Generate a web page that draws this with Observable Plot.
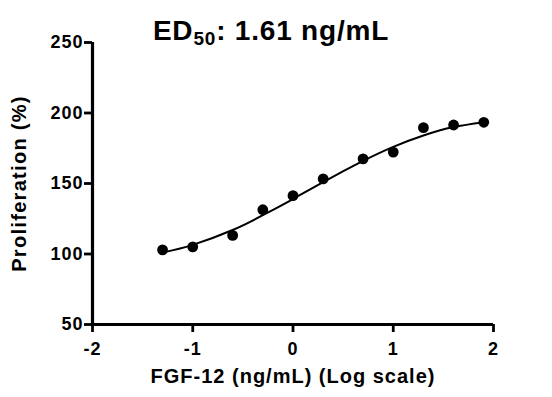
<!DOCTYPE html>
<html>
<head>
<meta charset="utf-8">
<script src="https://cdn.jsdelivr.net/npm/d3@7"></script>
<script src="https://cdn.jsdelivr.net/npm/@observablehq/plot@0.6"></script>
<style>
  html, body { margin: 0; padding: 0; background: #fff; }
  #chart { width: 552px; height: 397px; }
  #chart svg text { letter-spacing: 1px; font-weight: bold; }
</style>
</head>
<body>
<div id="chart"></div>
<script>
// Data: log10 concentration (ng/mL) and proliferation (%)
const logConc = [-1.301, -1.0, -0.602, -0.301, 0.0, 0.301, 0.699, 1.0, 1.301, 1.602, 1.903];
const proliferation = [102.9, 105.1, 113.2, 131.4, 141.4, 153.3, 167.5, 172.3, 189.6, 191.5, 193.4];

// Fitted curve
const curveX = [-1.301, -1.0, -0.602, -0.301, 0.0, 0.301, 0.699, 1.0, 1.301, 1.602, 1.903];
const curveY = [101.0, 106.5, 117.0, 127.5, 139.0, 151.0, 166.0, 176.0, 184.0, 190.0, 193.5];

const xTicks = [-2, -1, 0, 1, 2];
const yTicks = [50, 100, 150, 200, 250];
const titleMain = "ED";
const titleSub = "50";
const titleRest = ": 1.61 ng/mL";
const xLabel = "FGF-12 (ng/mL) (Log scale)";
const yLabel = "Proliferation (%)";

const points = logConc.map((x, i) => ({x, y: proliferation[i]}));
const fit = curveX.map((x, i) => ({x, y: curveY[i]}));

const font = "'Liberation Sans', Arial, sans-serif";

const chart = Plot.plot({
  width: 552,
  height: 397,
  marginLeft: 92,
  marginRight: 59,
  marginTop: 42,
  marginBottom: 73,
  style: {fontFamily: font, color: "#000", background: "#fff"},
  x: {domain: [-2, 2]},
  y: {domain: [50, 250]},
  marks: [
    Plot.axisX({ticks: xTicks, tickSize: 8, tickPadding: 10, tickFormat: d => String(d),
      fontSize: 18, fontWeight: "bold", strokeWidth: 2.8, label: null, stroke: "#000", fill: "#000"}),
    Plot.axisY({ticks: yTicks, tickSize: 8, tickPadding: 1,
      fontSize: 18, fontWeight: "bold", strokeWidth: 2.8, label: null, stroke: "#000", fill: "#000"}),
    Plot.ruleY([50], {stroke: "#000", strokeWidth: 3.2}),
    Plot.ruleX([-2], {stroke: "#000", strokeWidth: 3.2}),
    Plot.line(fit, {x: "x", y: "y", curve: "natural", stroke: "#000", strokeWidth: 2}),
    Plot.dot(points, {x: "x", y: "y", r: 5.4, fill: "#000", stroke: "none"}),
    Plot.text([xLabel], {frameAnchor: "bottom", textAnchor: "middle", lineAnchor: "middle", dy: 52, fontSize: 20, fontWeight: "bold", fill: "#000"}),
    Plot.text([yLabel], {frameAnchor: "left", textAnchor: "middle", lineAnchor: "middle", dx: -73, rotate: -90, fontSize: 20, fontWeight: "bold", fill: "#000"})
  ]
});

// Title with subscript
const svg = d3.select(chart);
svg.selectAll("text").filter(function() { return this.textContent === yLabel; }).style("letter-spacing", "1.3px");
const t = svg.append("text")
  .attr("x", 271).attr("y", 40)
  .attr("text-anchor", "middle")
  .attr("font-family", font)
  .attr("font-weight", "bold")
  .attr("font-size", 28)
  .style("letter-spacing", "0.8px")
  .attr("fill", "#000");
t.append("tspan").text(titleMain);
t.append("tspan").attr("font-size", 19).attr("dy", 5).text(titleSub);
t.append("tspan").attr("dy", -5).text(titleRest);

document.getElementById("chart").appendChild(chart);
</script>
</body>
</html>
